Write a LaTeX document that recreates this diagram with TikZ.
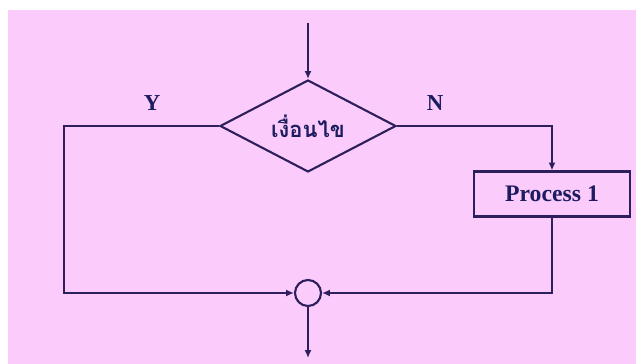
\documentclass[tikz,border=0pt]{standalone}
\usepackage{fontspec}
\setmainfont{Liberation Serif}
\newfontfamily\thaifont[Script=Thai]{Loma}
\usetikzlibrary{positioning,arrows.meta,shapes.geometric}
\definecolor{bgpink}{HTML}{FBCBFB}
\definecolor{flowline}{HTML}{2D1F5C}
\definecolor{flowtext}{HTML}{1C1C5E}

\begin{document}
\begin{tikzpicture}[x=0.02cm,y=-0.02cm,
  flow/.style={flowline,line width=1.2pt},
  tip/.style={-{Latex[length=4.5pt,width=4pt]}},
  decision/.style={diamond,draw=flowline,line width=1.2pt,aspect=1.91,minimum width=3.52cm,minimum height=1.84cm,inner sep=0pt,font=\thaifont\bfseries\fontsize{12.5}{14}\selectfont,text=flowtext},
  procbox/.style={rectangle,draw=flowline,line width=1.2pt,minimum width=3.12cm,minimum height=0.9cm,inner sep=0pt,font=\bfseries\fontsize{13.5}{15}\selectfont,text=flowtext},
  junction/.style={circle,draw=flowline,line width=1.2pt,minimum size=0.52cm,inner sep=0pt},
  lbl/.style={font=\bfseries\fontsize{13}{15}\selectfont,text=flowtext}]
\useasboundingbox (0,0) rectangle (636,364);
\fill[bgpink] (8,10) rectangle (636,364);
% flowchart parts
\node[decision] (cond) at (308,126) {เงื่อนไข};
\node[procbox] (proc) at (552,194) {Process 1};
\node[junction] (join) at (308,293) {};
\coordinate (entry) at (308,23);
\coordinate (exit) at (308,358);
\coordinate (yleft) at (64,210);
\node[lbl] (ylbl) at (152,103) {Y};
\node[lbl] (nlbl) at (435,103) {N};
% connectors
\draw[flow,tip] (entry) -- (cond.north);
\draw[flow,tip] (cond.west) -| (yleft) |- (join.west);
\draw[flow,tip] (cond.east) -| (proc.north);
\draw[flow,tip] (proc.south) |- (join.east);
\draw[flow,tip] (join.south) -- (exit);
\end{tikzpicture}
\end{document}
